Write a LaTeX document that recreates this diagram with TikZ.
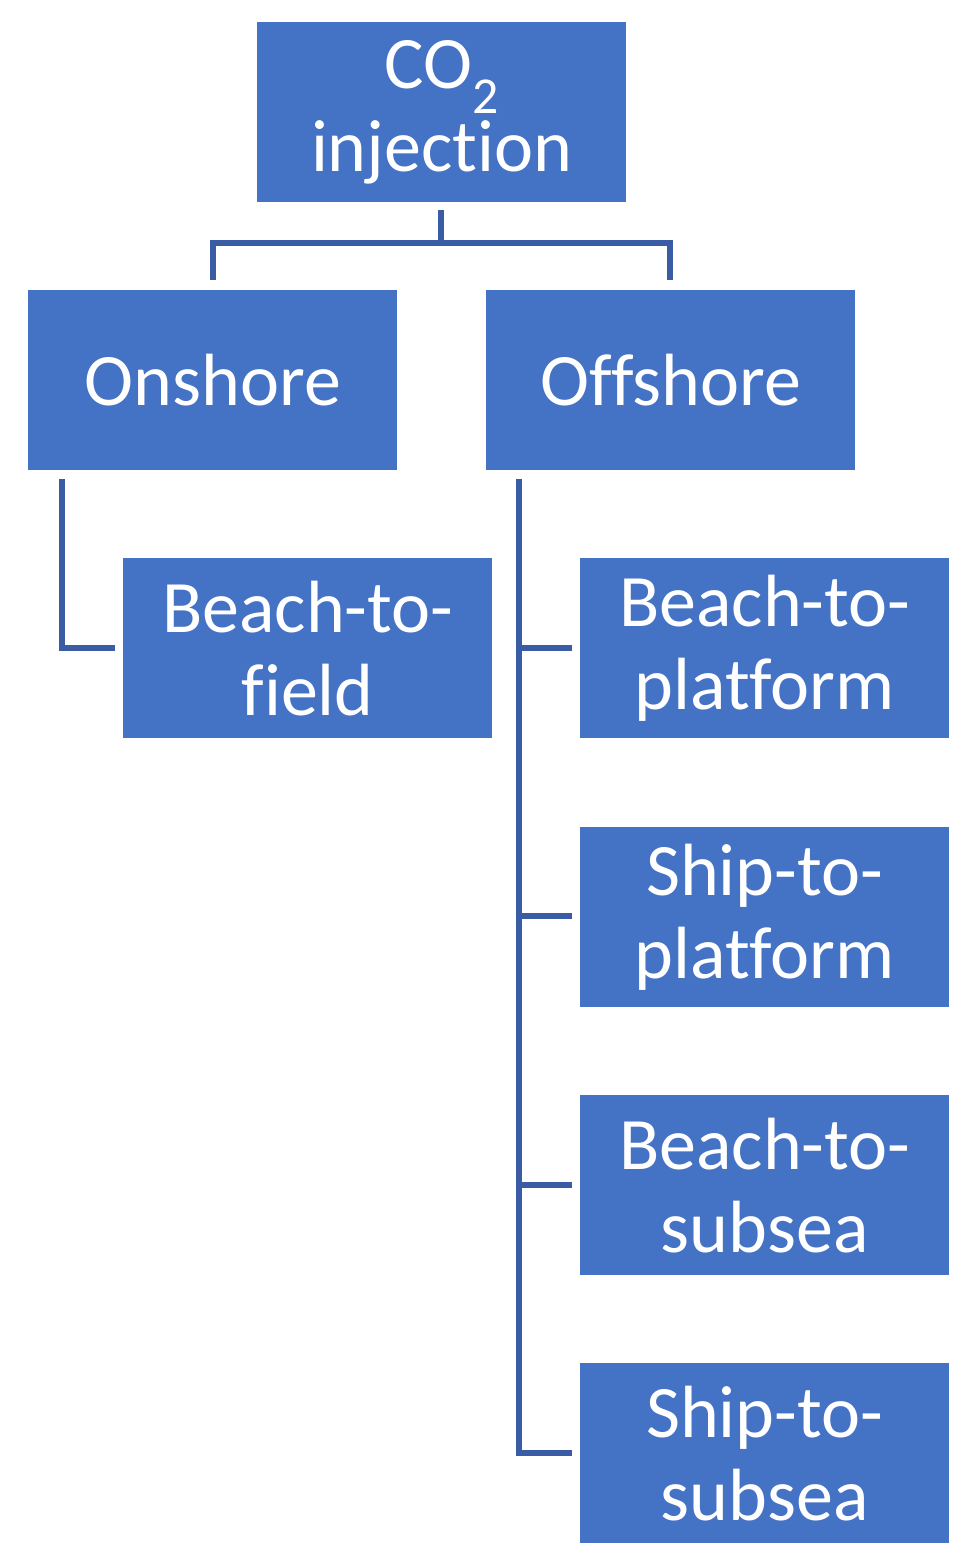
\documentclass[tikz,border=0pt]{standalone}
\usepackage{fontspec}
\setmainfont{Carlito}[Ligatures={NoCommon,NoRequired,NoContextual,NoRare}]
\definecolor{boxc}{HTML}{4472C4}
\definecolor{linec}{HTML}{3A5CA4}
\begin{document}
\begin{tikzpicture}[x=1pt,y=-1pt,
 box/.style={fill=boxc,draw=none,text=white,minimum width=369pt,minimum height=180pt,anchor=north west,inner sep=0pt,align=center,font=\fontsize{74}{83}\selectfont},
 con/.style={draw=linec,line width=6pt}]
\useasboundingbox (0,0) rectangle (976,1568);
\node[box] (co2) at (257,22) {CO\textsubscript{2}\\injection};
\node[box] (on) at (28,290) {Onshore};
\node[box] (off) at (486,290) {Offshore};
\node[box] (bf) at (123,558) {Beach-to-\\field};
\node[box] (bp) at (580,558) {Beach-to-\\platform};
\node[box] (sp) at (580,827) {Ship-to-\\platform};
\node[box] (bs) at (580,1095) {Beach-to-\\subsea};
\node[box] (ss) at (580,1363) {Ship-to-\\subsea};
\coordinate (t1) at (441,210);
\coordinate (t2) at (213,280);
\coordinate (t3) at (670,280);
\draw[con] (t1) -- (441,243) -| (t2);
\draw[con] (441,243) -| (t3);
\coordinate (o1) at (62,479);
\coordinate (o2) at (115,648);
\draw[con] (o1) |- (o2);
\coordinate (f1) at (519,479);
\draw[con] (f1) |- (572,1453);
\draw[con] (519,648) -- (572,648);
\draw[con] (519,916) -- (572,916);
\draw[con] (519,1185) -- (572,1185);
\end{tikzpicture}
\end{document}
